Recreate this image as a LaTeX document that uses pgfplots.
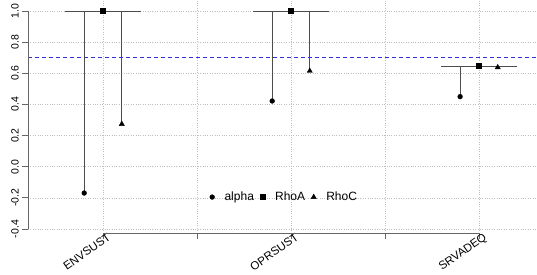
\documentclass[border=0pt]{standalone}
\usepackage{fontspec}
\setmainfont{Liberation Sans}
\usepackage{pgfplots}
\pgfplotsset{compat=1.18}
\definecolor{dashblue}{RGB}{50,50,220}
\colorlet{seg}{black!70}
\begin{document}
\begin{tikzpicture}
\begin{axis}[
  name=ax,
  scale only axis, width=509bp, height=233bp,
  xmin=0.601, xmax=3.309, ymin=-0.4257, ymax=1.0707,
  axis line style={draw=none},
  xtick={1,1.5,2,2.5,3}, xticklabels={ENVSUST,,OPRSUST,,SRVADEQ},
  ytick={-0.4,-0.2,0,0.2,0.4,0.6,0.8,1.0},
  yticklabels={-0.4,-0.2,0.0,0.2,0.4,0.6,0.8,1.0},
  xtick pos=bottom, ytick pos=left, tick align=outside, major tick length=6bp,
  tick style={black!60, line width=0.75bp},
  grid=major, major grid style={dotted, black!25, line width=0.5bp},
  /pgf/number format/assume math mode=true,
  x tick label style={yshift=8bp, xshift=4bp, rotate=35, anchor=north east, font=\fontsize{11.5bp}{13bp}\selectfont, inner sep=1bp},
  y tick label style={rotate=90, anchor=south, font=\fontsize{10.5bp}{12bp}\selectfont, inner sep=3bp},
  legend columns=3,
  legend style={draw=none, fill=none, at={(axis cs:1.965,-0.195)}, anchor=center,
    font=\fontsize{12bp}{14bp}\selectfont, inner sep=0pt,
    /tikz/every even column/.append style={column sep=4bp},
    /tikz/every odd column/.append style={column sep=8bp}},
  clip=false,
]
% reference line
\addplot[dashblue, line width=0.75bp, dash pattern=on 4bp off 3bp, forget plot] coordinates {(0.601,0.7) (3.309,0.7)};
% horizontal bars at max
\addplot[seg, line width=0.8bp, forget plot] coordinates {(0.8,1.0) (1.2,1.0)};
\addplot[seg, line width=0.8bp, forget plot] coordinates {(1.8,1.0) (2.2,1.0)};
\addplot[seg, line width=0.8bp, forget plot] coordinates {(2.8,0.647) (3.2,0.647)};
% vertical drops
\addplot[seg, line width=0.8bp, forget plot] coordinates {(0.9,1.0) (0.9,-0.169)};
\addplot[seg, line width=0.8bp, forget plot] coordinates {(1.1,1.0) (1.1,0.274)};
\addplot[seg, line width=0.8bp, forget plot] coordinates {(1.9,1.0) (1.9,0.422)};
\addplot[seg, line width=0.8bp, forget plot] coordinates {(2.1,1.0) (2.1,0.615)};
\addplot[seg, line width=0.8bp, forget plot] coordinates {(2.9,0.647) (2.9,0.45)};
\addplot[seg, line width=0.8bp, forget plot] coordinates {(3.1,0.647) (3.1,0.638)};
% points
\addplot[only marks, mark=*, mark size=2.4bp, black] coordinates {(0.9,-0.169) (1.9,0.422) (2.9,0.45)};
\addlegendentry{alpha}
\addplot[only marks, mark=square*, mark size=2.6bp, black] coordinates {(1,1.0) (2,1.0) (3,0.651)};
\addlegendentry{RhoA}
\addplot[only marks, mark=triangle*, mark size=3bp, black] coordinates {(1.1,0.274) (2.1,0.615) (3.1,0.638)};
\addlegendentry{RhoC}
% axis lines (R style)
\draw[black!60, line width=0.75bp] (axis cs:0.601,-0.4) -- (axis cs:0.601,1.0);
\draw[black!60, line width=0.75bp] (axis cs:1,-0.4257) -- (axis cs:3,-0.4257);
\end{axis}
\pgfresetboundingbox
\path (-28bp,-42bp) rectangle (509bp,233bp);
\end{tikzpicture}
\end{document}
